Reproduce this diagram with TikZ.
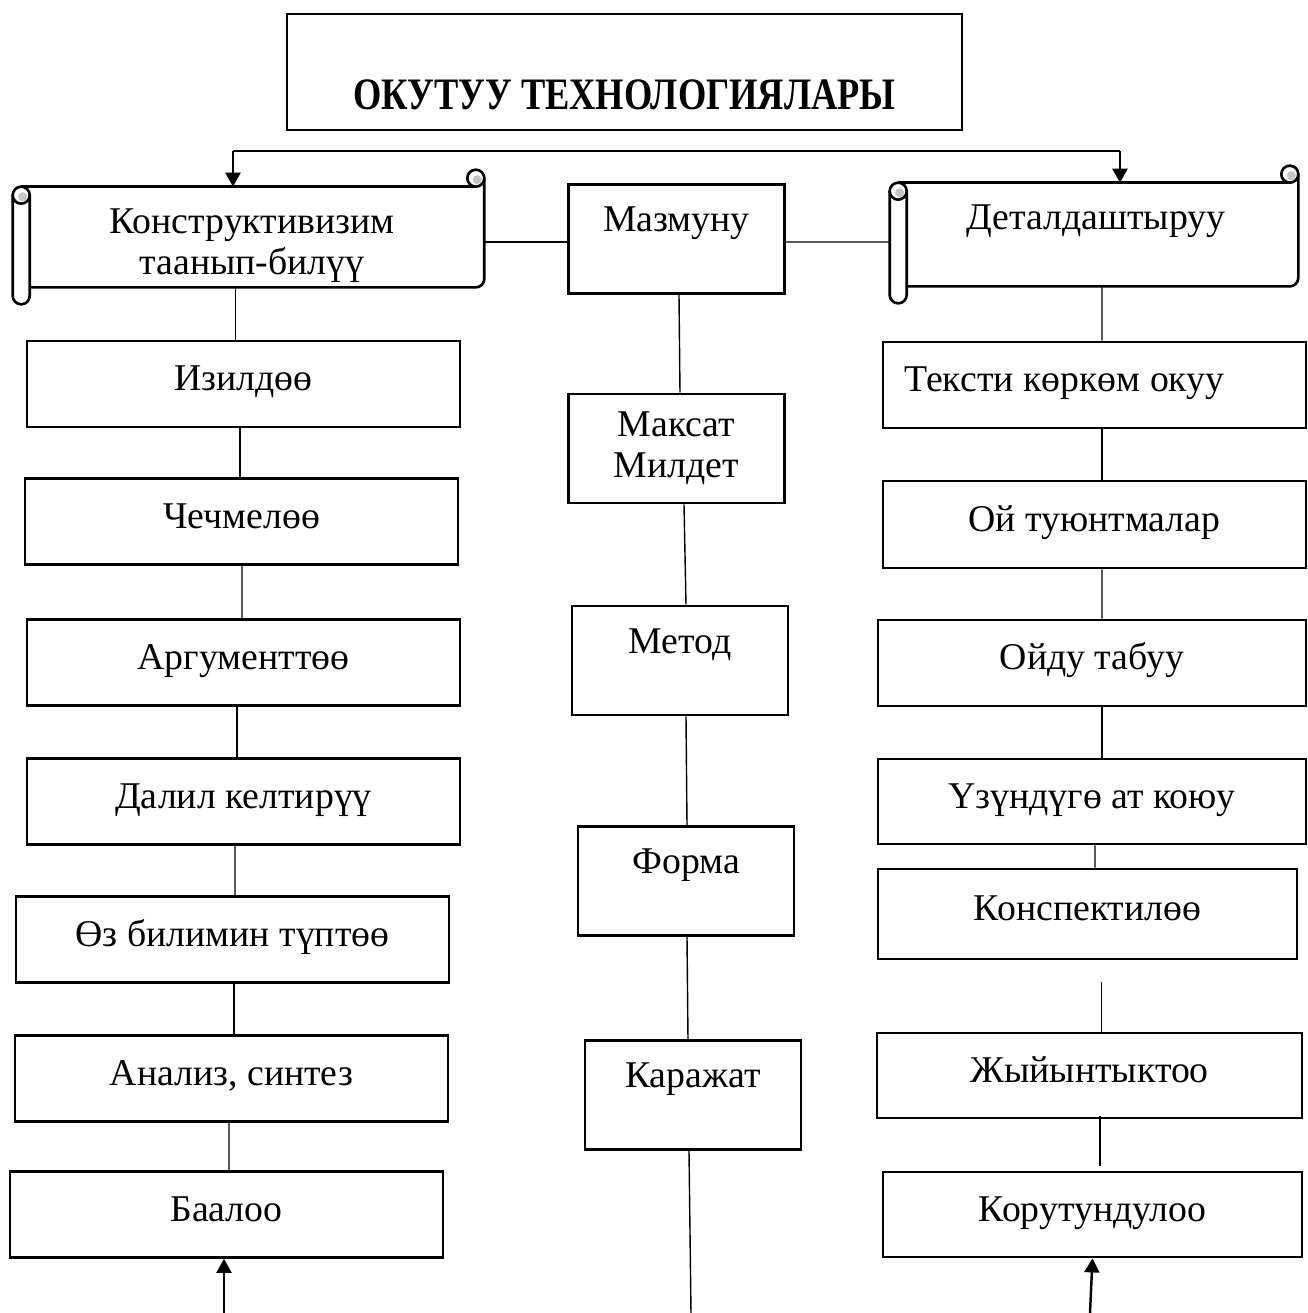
\documentclass[tikz,border=0pt]{standalone}
\usepackage{fontspec}
\setmainfont{Liberation Serif}[BoldFont={Liberation Serif Bold}]
\usetikzlibrary{calc,arrows.meta}

\tikzset{
  box/.style={draw, line width=1.6pt, inner sep=0pt},
  item/.style={box, minimum width=8.66cm, minimum height=1.72cm, text height=0.52cm, text depth=0.26cm},
  midbox/.style={box, minimum width=4.32cm, minimum height=2.18cm, text height=0.52cm, text depth=0.82cm},
  rollbody/.style={inner sep=0pt},
  rollline/.style={line width=1.5pt},
  link/.style={line width=0.8pt},
  tip/.style={line width=1.4pt, -{Triangle[length=0.28cm,width=0.3cm]}},
}

% horizontal scroll drawn round a named body node
\newcommand{\hscroll}[1]{%
  \draw[rollline] ($(#1.north west)+(8.5,0)$) -- ($(#1.north east)+(-8.5,0)$);
  \draw[rollline,rounded corners=0.17cm] ($(#1.north east)+(0,-8.5)$) -- (#1.south east) -- ($(#1.south west)+(17,0)$);
  \draw[rollline,rounded corners=0.17cm] ($(#1.north west)+(17,8.5)$) -- ($(#1.south west)+(17,17)$) -- ($(#1.south west)+(0,17)$) -- ($(#1.north west)+(0,8.5)$);
  \draw[rollline,fill=white] ($(#1.north east)+(-8.5,-8.5)$) circle (0.17cm);
  \draw[rollline,fill=white] ($(#1.north west)+(8.5,8.5)$) circle (0.17cm);
  \fill[gray!45] ($(#1.north east)+(-7,-7)$) circle (0.09cm);
  \fill[gray!45] ($(#1.north west)+(10,10)$) circle (0.09cm);
}

\begin{document}
\begin{tikzpicture}[x=0.02cm, y=-0.02cm, font=\fontsize{21.5}{23.5}\selectfont]
\useasboundingbox (0,0) rectangle (1308,1313);

\node[box, minimum width=13.5cm, minimum height=2.32cm, text height=1.48cm, text depth=0pt, font=\fontsize{25.6}{30}\selectfont\bfseries] (title) at (624.5,72) {\scalebox{0.81}[1]{ОКУТУУ ТЕХНОЛОГИЯЛАРЫ}};

% scrolls
\node[rollbody, minimum width=9.42cm, minimum height=2cm] (konstr) at (248.5,237) {};
\node[rollbody, minimum width=8.16cm, minimum height=2.06cm] (detal) at (1094,234.5) {};
\hscroll{konstr}
\hscroll{detal}
\node[align=center, inner sep=0pt] (konstrtxt) at (252,246) {Конструктивизим\\таанып-билүү};
\node[inner sep=0pt] (detaltxt) at (1096,221) {Деталдаштыруу};

% middle column
\node[midbox] (mazmunu) at (676.5,239) {Мазмуну};
\node[box, minimum width=4.32cm, minimum height=2.18cm, align=center] (maksat) at (676.5,448.5) {Максат\\Милдет};
\node[midbox] (metod) at (680,660.5) {Метод};
\node[midbox] (forma) at (686,881) {Форма};
\node[midbox] (karajat) at (693,1095) {Каражат};

% left column
\node[item] (izildoo) at (243.5,384) {Изилдөө};
\node[item] (chechmeloo) at (241.5,521.5) {Чечмелөө};
\node[item] (argument) at (243.5,662.5) {Аргументтөө};
\node[item] (dalil) at (243.5,801.5) {Далил келтирүү};
\node[item] (oz) at (232.5,939.5) {Өз билимин түптөө};
\node[item] (analiz) at (231.5,1078.5) {Анализ, синтез};
\node[item] (baaloo) at (226.5,1214.5) {Баалоо};

% right column
\node[item, minimum width=8.46cm] (tekst) at (1094.5,385) {Тексти көркөм окуу\hspace{1.2cm}\mbox{}};
\node[item, minimum width=8.46cm, minimum height=1.74cm] (oy) at (1094.5,524.5) {Ой туюнтмалар};
\node[item, minimum width=8.56cm] (oydu) at (1092,663) {Ойду табуу};
\node[item, minimum width=8.56cm, minimum height=1.7cm] (uzundu) at (1092,801.5) {Үзүндүгө ат коюу};
\node[item, minimum width=8.38cm, minimum height=1.8cm] (konsp) at (1087.5,914) {Конспектилөө};
\node[item, minimum width=8.5cm, minimum height=1.7cm] (jyi) at (1089.5,1075.5) {Жыйынтыктоо};
\node[item, minimum width=8.38cm, minimum height=1.7cm] (korut) at (1092.5,1214.5) {Корутундулоо};

% fork from the title level
\coordinate (forkL) at (233,151);
\coordinate (forkR) at (1120,151);
\draw[line width=1.2pt] (forkL) -- (forkR);
\draw[tip] (forkL) -- (forkL |- konstr.north);
\draw[tip] (forkR) -- (forkR |- detal.north);

\draw[link] ($(konstr.east)+(0,5)$) -- ($(mazmunu.west)+(0,3)$);
\draw[link] ($(mazmunu.east)+(0,3)$) -- ($(detal.west)+(0,7.5)$);

\draw[link] ($(konstr.south)+(-13,0)$) -- ($(izildoo.north)+(-8,0)$);
\draw[link] ($(izildoo.south)+(-3.5,0)$) -- ($(chechmeloo.north)+(-1.5,0)$);
\draw[link] ($(chechmeloo.south)+(0.5,0)$) -- ($(argument.north)+(-1.5,0)$);
\draw[link] ($(argument.south)+(-6.5,0)$) -- ($(dalil.north)+(-6.5,0)$);
\draw[link] ($(dalil.south)+(-8.5,0)$) -- ($(oz.north)+(2.5,0)$);
\draw[link] ($(oz.south)+(1.5,0)$) -- ($(analiz.north)+(2.5,0)$);
\draw[link] ($(analiz.south)+(-2.5,0)$) -- ($(baaloo.north)+(2.5,0)$);

\draw[link] ($(mazmunu.south)+(2.5,0)$) -- ($(maksat.north)+(3.5,0)$);
\draw[link] ($(maksat.south)+(7.5,0)$) -- ($(metod.north)+(6,0)$);
\draw[link] ($(metod.south)+(6,0)$) -- ($(forma.north)+(1,0)$);
\draw[link] ($(forma.south)+(1,0)$) -- ($(karajat.north)+(-5,0)$);
\coordinate (outM) at (691,1313);
\draw[link] ($(karajat.south)+(-4,0)$) -- (outM);

\draw[link] ($(detal.south)+(8,0)$) -- ($(tekst.north)+(7.5,0)$);
\draw[link] ($(tekst.south)+(7.5,0)$) -- ($(oy.north)+(7.5,0)$);
\draw[link] ($(oy.south)+(7.5,0)$) -- ($(oydu.north)+(10,0)$);
\draw[link] ($(oydu.south)+(10,0)$) -- ($(uzundu.north)+(10,0)$);
\draw[link] ($(uzundu.south)+(3,0)$) -- ($(konsp.north)+(7.5,0)$);
\draw[link] ($(jyi.north)+(12,-50)$) -- ($(jyi.north)+(12,0)$);
\draw[link] ($(jyi.south)+(10.5,-3)$) -- ($(korut.north)+(7.5,-5)$);

% incoming arrows at the foot
\coordinate (inL) at (224,1313);
\coordinate (inR) at (1090,1313);
\draw[tip] (inL) -- (inL |- baaloo.south);
\draw[tip] (inR) -- (korut.south);
\end{tikzpicture}
\end{document}
